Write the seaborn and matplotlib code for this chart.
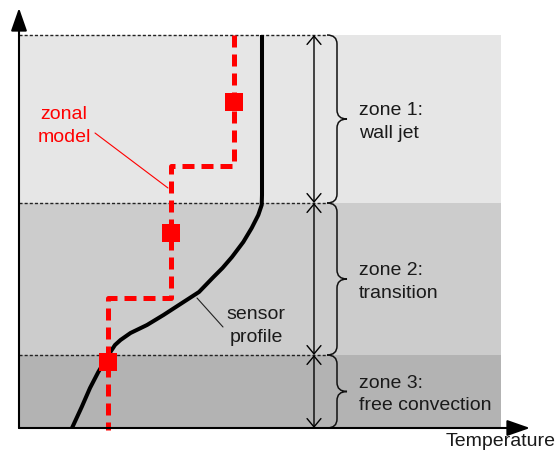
import matplotlib
matplotlib.use("Agg")
import matplotlib.pyplot as plt
import seaborn as sns
from matplotlib.path import Path
from matplotlib.patches import PathPatch

# -----------------------------
# Data (temperature / height, arbitrary units)
# -----------------------------
zone_edges = [0, 73, 225, 393]
zone_colors = ["#b3b3b3", "#cccccc", "#e6e6e6"]
zone_labels = ["zone 3:\nfree convection", "zone 2:\ntransition", "zone 1:\nwall jet"]

profile_temp = [243, 243, 242.7, 239.3, 232.7, 224.3, 213, 203.5, 194.5, 180,
                163, 144.5, 128, 111.5, 101.5, 96, 92.7, 87.7, 79.3, 71, 62.7, 53]
profile_height = [393, 233, 223, 213, 200, 186, 171, 160, 151, 136,
                  125, 113, 103, 95, 88, 83, 78, 70, 56, 40, 21, 0]

zonal_temp = [215, 215, 152, 152, 89, 89]
zonal_height = [393, 262, 262, 130, 130, -2]

sensor_temp = [215, 152, 89]
sensor_height = [326, 195, 66]

band_right = 482
dim_x = 295
brace_x = 308

sns.set_style("white")
plt.rcParams["font.family"] = ["Liberation Sans", "DejaVu Sans"]

fig = plt.figure(figsize=(5.58, 4.58), dpi=100)
ax = fig.add_axes([0, 0, 1, 1])
ax.set_xlim(-19, 539)
ax.set_ylim(-30, 428)
ax.axis("off")

# -----------------------------
# Zone bands and boundaries
# -----------------------------
for i in range(3):
    ax.fill_between([0, band_right], zone_edges[i], zone_edges[i + 1],
                    color=zone_colors[i], lw=0, zorder=0)

for yb in zone_edges[1:]:
    ax.plot([0, brace_x], [yb, yb], color="#222222", lw=1.0,
            linestyle=(0, (2.2, 1.5)), zorder=1)

# dimension line with open arrows
for i in range(3):
    ax.annotate("", xy=(dim_x, zone_edges[i]), xytext=(dim_x, zone_edges[i + 1]),
                arrowprops=dict(arrowstyle="<->,head_length=0.6,head_width=0.5",
                                mutation_scale=10, lw=1.0, color="black",
                                shrinkA=0, shrinkB=0), zorder=2)


def brace(ax, x0, yb, yt, xm_off=10, xt_off=20, r=9):
    xm = x0 + xm_off
    xt = x0 + xt_off
    ym = (yb + yt) / 2
    verts = [(x0, yt), (xm, yt), (xm, yt - r),
             (xm, ym + r), (xm, ym), (xt, ym),
             (xm, ym), (xm, ym - r),
             (xm, yb + r), (xm, yb), (x0, yb)]
    codes = [Path.MOVETO, Path.CURVE3, Path.CURVE3,
             Path.LINETO, Path.CURVE3, Path.CURVE3,
             Path.CURVE3, Path.CURVE3,
             Path.LINETO, Path.CURVE3, Path.CURVE3]
    ax.add_patch(PathPatch(Path(verts, codes), fc="none", ec="#111111", lw=1.1, zorder=2))


for i in range(3):
    brace(ax, brace_x, zone_edges[i], zone_edges[i + 1])
    ym = (zone_edges[i] + zone_edges[i + 1]) / 2
    ax.text(brace_x + 32, ym - 3, zone_labels[i], fontsize=14, color="#1a1a1a",
            ha="left", va="center", linespacing=1.42)

# -----------------------------
# Axes arrows
# -----------------------------
ax.annotate("", xy=(0, 420), xytext=(0, 0),
            arrowprops=dict(arrowstyle="-|>,head_length=1.0,head_width=0.35",
                            mutation_scale=14, lw=1.5, color="black",
                            shrinkA=0, shrinkB=0), zorder=6)
ax.annotate("", xy=(511, 0), xytext=(0, 0),
            arrowprops=dict(arrowstyle="-|>,head_length=1.0,head_width=0.35",
                            mutation_scale=14, lw=1.5, color="black",
                            shrinkA=0, shrinkB=0), zorder=6)
ax.text(537, -13, "Temperature", fontsize=14, color="#1a1a1a", ha="right", va="center")

# -----------------------------
# Sensor profile and zonal model
# -----------------------------
sns.lineplot(x=profile_temp, y=profile_height, sort=False, estimator=None,
             color="black", lw=2.9, ax=ax, zorder=3,
             solid_joinstyle="round", solid_capstyle="butt")

sns.lineplot(x=zonal_temp, y=zonal_height, sort=False, estimator=None,
             color="#ff0000", lw=3.6, ax=ax, zorder=4,
             linestyle=(0, (2.4, 1.4)), dash_joinstyle="round")

sns.scatterplot(x=sensor_temp, y=sensor_height, marker="s", s=150,
                color="#ff0000", edgecolor="none", linewidth=0, ax=ax, zorder=5)

# labels with leader lines
ax.text(45, 302, "zonal\nmodel", fontsize=14, color="#ff0000",
        ha="center", va="center", linespacing=1.42)
ax.plot([76, 149], [295, 240], color="#ff0000", lw=0.8, zorder=4)

ax.text(237, 102, "sensor\nprofile", fontsize=14, color="#1a1a1a",
        ha="center", va="center", linespacing=1.42)
ax.plot([178, 204], [130, 101], color="#222222", lw=0.8, zorder=4)

plt.savefig("out.png", dpi=100)
